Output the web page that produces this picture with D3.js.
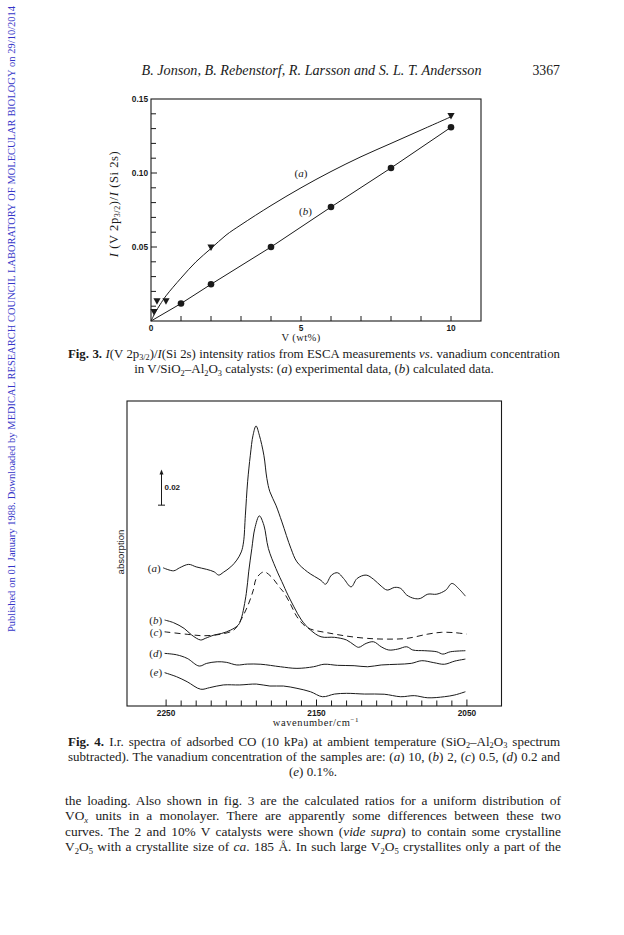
<!DOCTYPE html>
<html>
<head>
<meta charset="utf-8">
<script src="https://cdn.jsdelivr.net/npm/d3@7/dist/d3.min.js"></script>
<style>
  html, body { margin: 0; padding: 0; background: #fff; }
  svg { display: block; }
</style>
</head>
<body>
<svg id="page" width="624" height="935"></svg>
<script>
// ---------------- DATA ----------------
// Fig. 3 : I(V 2p3/2)/I(Si 2s) vs V (wt%)
const expConc  = [0.1, 0.2, 0.5, 2, 10];               // (a) experimental (triangles)
const expRatio = [0.006, 0.0133, 0.0133, 0.0496, 0.1385];
const fitConc  = [0, 0.15, 0.3, 0.5, 1, 1.5, 2, 2.5, 3, 4, 5, 6, 7, 8, 9, 10];   // (a) drawn curve
const fitRatio = [0, 0.006, 0.011, 0.017, 0.029, 0.040, 0.049, 0.058, 0.065, 0.078, 0.090, 0.101, 0.111, 0.120, 0.129, 0.138];
const calcConc  = [0, 1, 2, 4, 6, 8, 10];               // (b) calculated (circles)
const calcRatio = [0, 0.0118, 0.0248, 0.050, 0.077, 0.1034, 0.1309];
const fig3XTicks = [0, 5, 10];
const fig3YTicks = [0.05, 0.10, 0.15];
const fig3YTickLabels = ["0.05", "0.10", "0.15"];

// Fig. 4 : i.r. spectra, absorption in units of 0.001
const waveA = [2252,2245,2241,2235,2230,2223,2218,2215,2212,2207,2203,2200,2198.5,2197.3,2195.8,2194,2192.2,2190.2,2188,2185,2183,2181,2177,2173,2167,2163,2156,2147,2144,2140,2136,2132,2127,2123,2117,2112,2107,2103,2098,2094,2090,2085,2081,2076,2070,2064,2060,2055,2051];
const absA  = [77.5,75.8,77.5,79.4,78.0,76.6,75.2,73.4,74.9,78.0,81.8,86.4,92.0,107.0,125.7,140.6,151.8,157.0,151.8,140.6,127.6,120.1,112.6,103.2,88.3,80.8,75.2,70.4,68.3,73.4,74.7,71.5,66.8,71.5,73.4,71.0,67.2,65.0,66.5,65.9,62.2,60.3,60.3,62.7,62.7,65.0,68.7,65.4,61.6];
const waveB = [2251,2245,2238,2233,2227,2224,2218,2213,2207,2202,2200,2196.7,2195.1,2193,2191,2188,2185,2182,2177,2172,2170,2165,2160,2154,2147,2138,2130,2125,2122,2117,2112,2107,2102,2096,2090,2086,2078,2070,2066,2061,2051];
const absB  = [48.2,46.7,43.5,39.8,37.0,37.9,39.8,40.7,42.6,45.4,49.1,63.0,75.2,88.3,99.6,106.6,101.4,88.3,77.1,67.8,64.0,55.6,48.2,42.6,38.8,38.5,37.0,34.2,32.9,35.1,36.0,33.2,31.4,31.9,33.2,31.4,31.0,30.4,29.1,30.4,31.0];
const waveC = [2251,2236,2225,2214,2205,2201,2196,2192,2190,2185,2180,2174,2172,2167,2163,2157,2152,2143,2130,2116,2103,2090,2076,2067,2058,2050];
const absC  = [41.6,40.2,39.4,40.2,42.6,47.2,55.6,65.0,71.5,75.2,72.4,65.9,64.0,56.6,50.0,44.4,42.6,41.1,39.2,37.9,37.5,37.9,40.3,41.3,41.1,40.3];
const waveD = [2251,2243,2236,2228,2223,2216,2210,2203,2196,2187,2174,2163,2152,2145,2136,2125,2116,2107,2096,2087,2080,2072,2065,2058,2051];
const absD  = [29.5,28.7,26.7,22.4,23.9,24.8,24.5,23.0,23.5,23.4,22.0,21.1,22.0,23.4,22.8,22.6,22.0,23.0,23.4,23.9,25.4,24.3,23.4,25.2,26.3];
const waveE = [2251,2243,2236,2227,2221,2212,2201,2190,2181,2172,2163,2154,2146,2138,2130,2118,2105,2094,2085,2076,2065,2058,2051];
const absE  = [18.7,16.4,13.6,9.4,10.3,11.8,11.8,12.3,11.2,11.2,9.9,8.0,5.2,6.7,7.1,6.7,6.6,5.2,5.8,4.6,5.2,6.2,8.0];
const spectrumLabels = ["a", "b", "c", "d", "e"];
const fig4XTickLabels = [2250, 2150, 2050];
const scaleBarValue = 20;      // 0.02 absorption units
const scaleBarBase = 112.6;

// ---------------- TEXT ----------------
const headerAuthors = "B. Jonson, B. Rebenstorf, R. Larsson and S. L. T. Andersson";
const headerPage = "3367";
const watermark = "Published on 01 January 1988. Downloaded by MEDICAL RESEARCH COUNCIL LABORATORY OF MOLECULAR BIOLOGY on 29/10/2014";

// ---------------- HELPERS ----------------
const SERIF = "'Liberation Serif', 'Times New Roman', serif";
const SANS = "'Liberation Sans', Arial, sans-serif";
const INK = "#1a1a1a";
const svg = d3.select("#page");

// parts: string or [string, flags]; flags: I italic, B bold, _ subscript, ^ superscript
function rich(g, parts, x, y, size, opts = {}) {
  const t = g.append("text")
    .attr("x", x).attr("y", y)
    .attr("font-size", size)
    .attr("font-family", opts.family || SERIF)
    .attr("fill", opts.fill || INK)
    .attr("text-anchor", opts.anchor || "start");
  if (opts.transform) t.attr("transform", opts.transform);
  if (opts.spacing) t.attr("letter-spacing", opts.spacing);
  let shift = 0;
  parts.forEach(p => {
    const [s, f] = typeof p === "string" ? [p, ""] : [p[0], p[1]];
    const ts = t.append("tspan").text(s);
    let target = 0;
    if (f.includes("I")) ts.attr("font-style", "italic");
    if (f.includes("B")) ts.attr("font-weight", "bold");
    if (f.includes("_")) { target = size * 0.2; ts.attr("font-size", size * 0.64); }
    if (f.includes("^")) { target = -size * 0.36; ts.attr("font-size", size * 0.66); }
    if (target !== shift) { ts.attr("dy", target - shift); shift = target; }
  });
  if (opts.width) {
    const w = t.node().getComputedTextLength();
    if (w > opts.width) {
      t.remove();
      return rich(g, parts, x, y, size * opts.width / w * 0.995, opts);
    }
    const n = (t.text().match(/ /g) || []).length;
    if (n > 0) t.attr("word-spacing", (opts.width - w) / n);
  }
  return t;
}

// ---------------- PAGE FURNITURE ----------------
rich(svg, [[watermark, ""]], 0, 0, 11.5, {
  fill: "#3535c8", transform: "translate(15,632) rotate(-90)", width: 626
});
rich(svg, [[headerAuthors, "I"]], 311.5, 75, 14.2, { anchor: "middle" });
rich(svg, [headerPage], 560, 75, 13.8, { anchor: "end" });

// ---------------- FIG. 3 ----------------
{
  const g = svg.append("g");
  const x = d3.scaleLinear().domain([0, 11]).range([151, 481]);
  const y = d3.scaleLinear().domain([0, 0.15]).range([321, 99]);

  g.append("rect")
    .attr("x", x(0)).attr("y", y(0.15))
    .attr("width", x(11) - x(0)).attr("height", y(0) - y(0.15))
    .attr("fill", "none").attr("stroke", INK).attr("stroke-width", 1.1);

  // ticks (inside)
  const xt = d3.range(1, 11);
  g.selectAll(".xt").data(xt).join("line")
    .attr("x1", d => x(d)).attr("x2", d => x(d))
    .attr("y1", y(0)).attr("y2", y(0) - 5)
    .attr("stroke", INK).attr("stroke-width", 1);
  const yt = d3.range(1, 15).map(d => d / 100);
  g.selectAll(".yt").data(yt).join("line")
    .attr("x1", x(0)).attr("x2", d => x(0) + (Math.round(d * 100) % 5 === 0 ? 6 : 5))
    .attr("y1", d => y(d)).attr("y2", d => y(d))
    .attr("stroke", INK).attr("stroke-width", 1);

  g.selectAll(".xl").data(fig3XTicks).join("text")
    .attr("x", d => x(d)).attr("y", y(0) + 9.5)
    .attr("text-anchor", "middle").attr("font-family", SANS).attr("font-weight", "bold")
    .attr("font-size", 8.3).attr("fill", INK).text(d => d);
  g.selectAll(".yl").data(fig3YTicks).join("text")
    .attr("x", x(0) - 3).attr("y", d => y(d) + 3)
    .attr("text-anchor", "end").attr("font-family", SANS).attr("font-weight", "bold")
    .attr("font-size", 8.3).attr("fill", INK).text((d, i) => fig3YTickLabels[i]);

  rich(g, ["V (wt%)"], (x(0) + x(11)) / 2 - 15, 341, 10.5, { anchor: "middle", spacing: 0.4 });
  rich(g, [["I", "I"], " (V 2p", ["3/2", "_"], ")/", ["I", "I"], " (Si 2s)"], 0, 0, 12.5,
    { anchor: "middle", spacing: 0.6, transform: `translate(117.5,${(y(0) + y(0.15)) / 2 - 6}) rotate(-90)` });

  // (a) curve
  const fitPts = fitConc.map((c, i) => [c, fitRatio[i]]);
  g.append("path").datum(fitPts)
    .attr("d", d3.line().x(d => x(d[0])).y(d => y(d[1])).curve(d3.curveCatmullRom.alpha(0.5)))
    .attr("fill", "none").attr("stroke", INK).attr("stroke-width", 1);
  // (b) line
  const calcPts = calcConc.map((c, i) => [c, calcRatio[i]]);
  g.append("path").datum(calcPts)
    .attr("d", d3.line().x(d => x(d[0])).y(d => y(d[1])))
    .attr("fill", "none").attr("stroke", INK).attr("stroke-width", 1);

  g.selectAll(".tri").data(expConc.map((c, i) => [c, expRatio[i]])).join("path")
    .attr("transform", d => `translate(${x(d[0])},${y(d[1])})`)
    .attr("d", "M-3.6,-3L3.6,-3L0,3.4Z").attr("fill", INK);
  g.selectAll(".dot").data(calcPts.filter(d => d[0] > 0)).join("circle")
    .attr("cx", d => x(d[0])).attr("cy", d => y(d[1])).attr("r", 3.3).attr("fill", INK);

  rich(g, ["(", ["a", "I"], ")"], x(5), y(0.0975), 11, { anchor: "middle" });
  rich(g, ["(", ["b", "I"], ")"], x(5.15), y(0.0715), 11, { anchor: "middle" });

  // caption
  rich(g, [["Fig. 3.", "B"], " ", ["I", "I"], "(V 2p", ["3/2", "_"], ")/", ["I", "I"],
    "(Si 2s) intensity ratios from ESCA measurements ", ["vs", "I"], ". vanadium concentration"],
    68, 357.5, 13, { width: 492 });
  rich(g, ["in V/SiO", ["2", "_"], "–Al", ["2", "_"], "O", ["3", "_"], " catalysts: (", ["a", "I"],
    ") experimental data, (", ["b", "I"], ") calculated data."], 314, 373, 13, { anchor: "middle" });
}

// ---------------- FIG. 4 ----------------
{
  const g = svg.append("g");
  const x = d3.scaleLinear().domain([2276, 2027]).range([127, 501.5]);
  const y = d3.scaleLinear().domain([0, 171]).range([706, 401]);

  g.append("rect")
    .attr("x", x(2276)).attr("y", y(171))
    .attr("width", x(2027) - x(2276)).attr("height", y(0) - y(171))
    .attr("fill", "none").attr("stroke", INK).attr("stroke-width", 1.1);

  const ticks = d3.range(2050, 2251, 10);
  g.selectAll(".t").data(ticks).join("line")
    .attr("x1", d => x(d)).attr("x2", d => x(d))
    .attr("y1", y(0)).attr("y2", d => y(0) - (d % 100 === 50 ? 6.5 : 5.5))
    .attr("stroke", INK).attr("stroke-width", 1);
  g.selectAll(".tl").data(fig4XTickLabels).join("text")
    .attr("x", d => x(d)).attr("y", y(0) + 9.5)
    .attr("text-anchor", "middle").attr("font-family", SANS).attr("font-weight", "bold")
    .attr("font-size", 8.3).attr("fill", INK).text(d => d);

  rich(g, ["wavenumber/cm", ["−1", "^"]], 316, 726, 10.5, { anchor: "middle", spacing: 0.6 });
  rich(g, ["absorption"], 0, 0, 9.6,
    { family: SANS, anchor: "middle", transform: "translate(123.5,552) rotate(-90)" });

  const series = [[waveA, absA], [waveB, absB], [waveC, absC], [waveD, absD], [waveE, absE]];
  const line = d3.line().x(d => x(d[0])).y(d => y(d[1])).curve(d3.curveCatmullRom.alpha(0.5));
  series.forEach(([w, a], i) => {
    const pts = w.map((v, j) => [v, a[j]]);
    g.append("path").datum(pts).attr("d", line)
      .attr("fill", "none").attr("stroke", INK).attr("stroke-width", 1)
      .attr("stroke-dasharray", spectrumLabels[i] === "c" ? "6,4" : null);
    rich(g, ["(", [spectrumLabels[i], "I"], ")"], x(w[0]) - 2.5, y(a[0]) + 3.8, 11, { anchor: "end" });
  });

  // scale bar 0.02
  const bx = 161.5;
  g.append("line").attr("x1", bx).attr("x2", bx)
    .attr("y1", y(scaleBarBase)).attr("y2", y(scaleBarBase + scaleBarValue) + 3)
    .attr("stroke", INK).attr("stroke-width", 1);
  g.append("path")
    .attr("d", `M${bx - 2},${y(scaleBarBase + scaleBarValue) + 5}L${bx + 2},${y(scaleBarBase + scaleBarValue) + 5}L${bx},${y(scaleBarBase + scaleBarValue)}Z`)
    .attr("fill", INK);
  g.append("line").attr("x1", bx - 3.5).attr("x2", bx + 3.5)
    .attr("y1", y(scaleBarBase)).attr("y2", y(scaleBarBase))
    .attr("stroke", INK).attr("stroke-width", 1);
  g.append("text").attr("x", bx + 3).attr("y", 490)
    .attr("font-family", SANS).attr("font-weight", "bold").attr("font-size", 8)
    .attr("fill", INK).text((scaleBarValue / 1000).toFixed(2));

  // caption
  rich(g, [["Fig. 4.", "B"], " I.r. spectra of adsorbed CO (10 kPa) at ambient temperature (SiO", ["2", "_"],
    "–Al", ["2", "_"], "O", ["3", "_"], " spectrum"], 68, 745.5, 13, { width: 492 });
  rich(g, ["subtracted). The vanadium concentration of the samples are: (", ["a", "I"], ") 10, (", ["b", "I"],
    ") 2, (", ["c", "I"], ") 0.5, (", ["d", "I"], ") 0.2 and"], 68, 761, 13, { width: 492 });
  rich(g, ["(", ["e", "I"], ") 0.1%."], 313, 775.5, 13, { anchor: "middle" });
}

// ---------------- BODY TEXT ----------------
{
  const g = svg.append("g");
  const lh = 15.5, x0 = 65, w = 496, y0 = 804.5;
  rich(g, ["the loading. Also shown in fig. 3 are the calculated ratios for a uniform distribution of"], x0, y0, 13.4, { width: w });
  rich(g, ["VO", ["x", "I_"], " units in a monolayer. There are apparently some differences between these two"], x0, y0 + lh, 13.4, { width: w });
  rich(g, ["curves. The 2 and 10% V catalysts were shown (", ["vide supra", "I"], ") to contain some crystalline"], x0, y0 + 2 * lh, 13.4, { width: w });
  rich(g, ["V", ["2", "_"], "O", ["5", "_"], " with a crystallite size of ", ["ca", "I"], ". 185 Å. In such large V", ["2", "_"], "O", ["5", "_"],
    " crystallites only a part of the"], x0, y0 + 3 * lh, 13.4, { width: w });
}
</script>
</body>
</html>
